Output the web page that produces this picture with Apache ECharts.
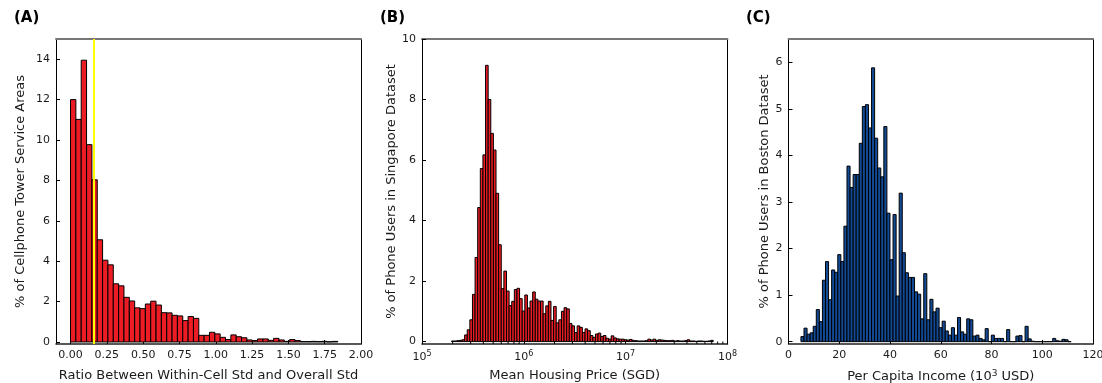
<!DOCTYPE html>
<html>
<head>
<meta charset="utf-8">
<script src="https://cdn.jsdelivr.net/npm/echarts@6/dist/echarts.min.js"></script>
<style>
  html, body { margin: 0; padding: 0; background: #ffffff; }
  #chart { width: 1102px; height: 383px; }
</style>
</head>
<body>
<div id="chart"></div>
<script>
// ---- (A) ratio of within-cell std to overall std: 50 equal bins from 0 ----
const ratioBinStart = 0;
const ratioBinWidth = 0.0368;
const ratioPct = [
  12.0, 11.02, 13.95, 9.77, 8.03, 5.06, 4.05, 3.82, 2.88, 2.78,
  2.21, 2.03, 1.69, 1.65, 1.88, 2.02, 1.83, 1.45, 1.44, 1.32,
  1.29, 1.06, 1.26, 1.17, 0.33, 0.33, 0.48, 0.40, 0.23, 0.12,
  0.35, 0.26, 0.21, 0.10, 0.07, 0.15, 0.15, 0.08, 0.18, 0.10,
  0.03, 0.12, 0.07, 0.02, 0.02, 0.03, 0.02, 0.03, 0.01, 0.03
];
const ratioMarker = 0.161;
const ratioTicks = [0, 0.25, 0.5, 0.75, 1.0, 1.25, 1.5, 1.75, 2.0];
const ratioPctTicks = [0, 2, 4, 6, 8, 10, 12, 14];

// ---- (B) mean housing price: 100 bins equal in log10 space ----
const priceLogStart = 5.29;
const priceLogWidth = 0.0257;
const pricePct = [
  0.02, 0.02, 0.03, 0.04, 0.06, 0.22, 0.39, 0.72, 1.56, 2.78,
  4.43, 5.72, 6.17, 9.13, 8.00, 6.88, 6.33, 4.90, 3.20, 1.75,
  2.33, 1.67, 1.19, 1.33, 1.72, 1.76, 1.42, 1.01, 1.54, 1.11,
  1.34, 1.64, 1.40, 1.34, 1.34, 0.92, 1.18, 1.33, 0.70, 1.16,
  0.62, 0.72, 1.00, 1.12, 1.08, 0.60, 0.52, 0.30, 0.52, 0.47,
  0.30, 0.42, 0.36, 0.20, 0.14, 0.25, 0.28, 0.17, 0.20, 0.11,
  0.08, 0.19, 0.12, 0.09, 0.08, 0.08, 0.06, 0.05, 0.07, 0.04,
  0.03, 0.02, 0.02, 0.02, 0.03, 0.08, 0.05, 0.08, 0.04, 0.06,
  0.05, 0.04, 0.03, 0.03, 0.04, 0.02, 0.03, 0.02, 0.02, 0.03,
  0.06, 0.02, 0.02, 0.01, 0.02, 0.02, 0.01, 0.01, 0.02, 0.04
];
const priceDecades = [1e5, 1e6, 1e7, 1e8];
const pricePctTicks = [0, 2, 4, 6, 8, 10];

// ---- (C) per capita income (thousand USD) ----
const incomeBinStart = 4.9;
const incomeBinWidth = 1.21;
const incomePct = [
  0.11, 0.29, 0.16, 0.19, 0.33, 0.69, 0.43, 1.32, 1.72, 0.90,
  1.54, 1.49, 1.87, 1.72, 2.48, 3.77, 3.31, 3.59, 3.59, 4.26,
  5.05, 5.09, 4.59, 5.88, 4.37, 3.73, 3.54, 4.62, 2.76, 1.76,
  2.73, 0.98, 3.19, 1.91, 1.48, 1.38, 1.38, 1.07, 1.02, 0.49,
  1.46, 0.47, 0.91, 0.64, 0.72, 0.30, 0.44, 0.23, 0.14, 0.30,
  0.14, 0.52, 0.21, 0.16, 0.49, 0.47, 0.12, 0.14, 0.07, 0.04,
  0.28, 0.00, 0.14, 0.07, 0.07, 0.07, 0.00, 0.26, 0.00, 0.00,
  0.12, 0.13, 0.00, 0.33, 0.06, 0.01, 0.00, 0.00, 0.00, 0.00,
  0.00, 0.00, 0.07, 0.02, 0.01, 0.05, 0.04, 0.00
];
const incomeTicks = [0, 20, 40, 60, 80, 100, 120];
const incomePctTicks = [0, 1, 2, 3, 4, 5, 6];

// bins as [left edge, right edge, percent]
const ratioBins = ratioPct.map((v, i) => [ratioBinStart + i * ratioBinWidth, ratioBinStart + (i + 1) * ratioBinWidth, v]);
const priceBins = pricePct.map((v, i) => [Math.pow(10, priceLogStart + i * priceLogWidth), Math.pow(10, priceLogStart + (i + 1) * priceLogWidth), v]);
const incomeBins = incomePct.map((v, i) => [incomeBinStart + i * incomeBinWidth, incomeBinStart + (i + 1) * incomeBinWidth, v]);

// minor ticks of the log axis: 2..9 within every decade
const priceMinor = [];
for (let d = 5; d < 8; d++) for (let k = 2; k <= 9; k++) priceMinor.push([k * Math.pow(10, d)]);

const FONT = 'DejaVu Sans';
const TXT = '#1a1a1a';
const TICK_FS = 11;
const NAME_FS = 13;

function histItem(params, api) {
  const top = api.coord([api.value(0), api.value(2)]);
  const base = api.coord([api.value(1), 0]);
  return {
    type: 'rect',
    shape: { x: top[0], y: top[1], width: base[0] - top[0], height: base[1] - top[1] },
    style: { fill: api.visual('color'), stroke: '#000', lineWidth: 1 }
  };
}

function minorTickItem(params, api) {
  const p = api.coord([api.value(0), api.value(1)]);
  return {
    type: 'line',
    shape: { x1: p[0], y1: p[1], x2: p[0], y2: p[1] - 2.5 },
    style: { stroke: '#000', lineWidth: 1 }
  };
}

const grids = [
  { left: 56, top: 39, width: 305, height: 305, outerBoundsMode: 'none', containLabel: false },
  { left: 422, top: 39, width: 305.5, height: 305, outerBoundsMode: 'none', containLabel: false },
  { left: 788.5, top: 39, width: 304.5, height: 305, outerBoundsMode: 'none', containLabel: false }
];

function tickStyle(values) {
  const t = { show: true, inside: true, length: 4, lineStyle: { color: '#000' } };
  if (values) t.customValues = values;
  return t;
}
function labelStyle(extra) {
  return Object.assign({ color: TXT, fontFamily: FONT, fontSize: TICK_FS, margin: 6 }, extra || {});
}

function bottomAxis(gi, extra) {
  return Object.assign({
    gridIndex: gi,
    position: 'bottom',
    axisLine: { show: true, onZero: false, lineStyle: { color: '#222', width: 1.5 } },
    axisTick: tickStyle(),
    axisLabel: labelStyle(),
    splitLine: { show: false },
    nameLocation: 'middle',
    nameGap: 25,
    nameTextStyle: { color: TXT, fontFamily: FONT, fontSize: NAME_FS }
  }, extra);
}
function topAxis(gi, type, min, max) {
  return {
    gridIndex: gi, type: type, min: min, max: max, position: 'top',
    axisLine: { show: true, onZero: false, lineStyle: { color: '#777', width: 2 } },
    axisTick: { show: false }, axisLabel: { show: false }, splitLine: { show: false }
  };
}
function leftAxis(gi, extra) {
  return Object.assign({
    gridIndex: gi,
    type: 'value',
    position: 'left',
    axisLine: { show: true, onZero: false, lineStyle: { color: '#000', width: 1 } },
    axisTick: tickStyle(),
    axisLabel: labelStyle(),
    splitLine: { show: false },
    nameLocation: 'middle',
    nameGap: 28,
    nameRotate: 90,
    nameTextStyle: { color: TXT, fontFamily: FONT, fontSize: NAME_FS }
  }, extra);
}
function rightAxis(gi, min, max) {
  return {
    gridIndex: gi, type: 'value', min: min, max: max, position: 'right',
    axisLine: { show: true, onZero: false, lineStyle: { color: '#000', width: 1 } },
    axisTick: { show: false }, axisLabel: { show: false }, splitLine: { show: false }
  };
}

const supRich = { s: { fontFamily: FONT, fontSize: 8, color: TXT, verticalAlign: 'bottom', padding: [0, 0, 7, 0] } };
const titleStyle = { fontFamily: FONT, fontWeight: 'bold', fontSize: 15, color: '#000' };

const option = {
  animation: false,
  backgroundColor: '#ffffff',
  title: [
    { text: '(A)', left: 9, top: 6, textStyle: titleStyle },
    { text: '(B)', left: 375, top: 6, textStyle: titleStyle },
    { text: '(C)', left: 741, top: 6, textStyle: titleStyle }
  ],
  grid: grids,
  xAxis: [
    bottomAxis(0, {
      type: 'value', min: -0.1, max: 2.0,
      name: 'Ratio Between Within-Cell Std and Overall Std',
      axisTick: tickStyle(ratioTicks),
      axisLabel: labelStyle({ customValues: ratioTicks, formatter: v => v.toFixed(2) })
    }),
    bottomAxis(1, {
      type: 'log', logBase: 10, min: 1e5, max: 1e8,
      name: 'Mean Housing Price (SGD)',
      axisTick: tickStyle(priceDecades),
      axisLabel: labelStyle({
        customValues: priceDecades,
        formatter: v => '10{s|' + Math.round(Math.log10(v)) + '}', rich: supRich
      })
    }),
    bottomAxis(2, {
      type: 'value', min: 0, max: 120,
      name: 'Per Capita Income (10{s|3} USD)',
      axisTick: tickStyle(incomeTicks),
      axisLabel: labelStyle({ customValues: incomeTicks }),
      nameTextStyle: { color: TXT, fontFamily: FONT, fontSize: NAME_FS, rich: { s: { fontFamily: FONT, fontSize: 9, color: TXT, verticalAlign: 'bottom', padding: [0, 0, 7, 0] } } }
    }),
    topAxis(0, 'value', -0.1, 2.0),
    topAxis(1, 'log', 1e5, 1e8),
    topAxis(2, 'value', 0, 120)
  ],
  yAxis: [
    leftAxis(0, {
      min: -0.1, max: 15,
      name: '% of Cellphone Tower Service Areas',
      nameGap: 29,
      axisTick: tickStyle(ratioPctTicks),
      axisLabel: labelStyle({ customValues: ratioPctTicks })
    }),
    leftAxis(1, {
      min: -0.08, max: 10,
      name: '% of Phone Users in Singapore Dataset',
      nameGap: 22,
      axisTick: tickStyle(pricePctTicks),
      axisLabel: labelStyle({ customValues: pricePctTicks })
    }),
    leftAxis(2, {
      min: -0.05, max: 6.5,
      name: '% of Phone Users in Boston Dataset',
      nameGap: 16,
      axisTick: tickStyle(incomePctTicks),
      axisLabel: labelStyle({ customValues: incomePctTicks })
    }),
    rightAxis(0, -0.1, 15),
    rightAxis(1, -0.08, 10),
    rightAxis(2, -0.05, 6.5)
  ],
  series: [
    {
      name: 'ratio', type: 'custom', xAxisIndex: 0, yAxisIndex: 0,
      data: ratioBins, encode: { x: [0, 1], y: 2 },
      itemStyle: { color: '#ec1c24' }, renderItem: histItem, z: 2,
      markLine: {
        silent: true, symbol: 'none', label: { show: false },
        lineStyle: { color: '#ffff00', width: 2, type: 'solid' },
        data: [{ xAxis: ratioMarker }]
      }
    },
    {
      name: 'price', type: 'custom', xAxisIndex: 1, yAxisIndex: 1,
      data: priceBins, encode: { x: [0, 1], y: 2 },
      itemStyle: { color: '#ec1c24' }, renderItem: histItem, z: 2
    },
    {
      name: 'priceMinorTicks', type: 'custom', xAxisIndex: 1, yAxisIndex: 1,
      data: priceMinor.map(d => [d[0], -0.08]), encode: { x: 0, y: 1 },
      renderItem: minorTickItem, z: 5, silent: true
    },
    {
      name: 'income', type: 'custom', xAxisIndex: 2, yAxisIndex: 2,
      data: incomeBins, encode: { x: [0, 1], y: 2 },
      itemStyle: { color: '#134a96' }, renderItem: histItem, z: 2
    }
  ]
};

const chart = echarts.init(document.getElementById('chart'), null, { renderer: 'canvas' });
chart.setOption(option);
</script>
</body>
</html>
